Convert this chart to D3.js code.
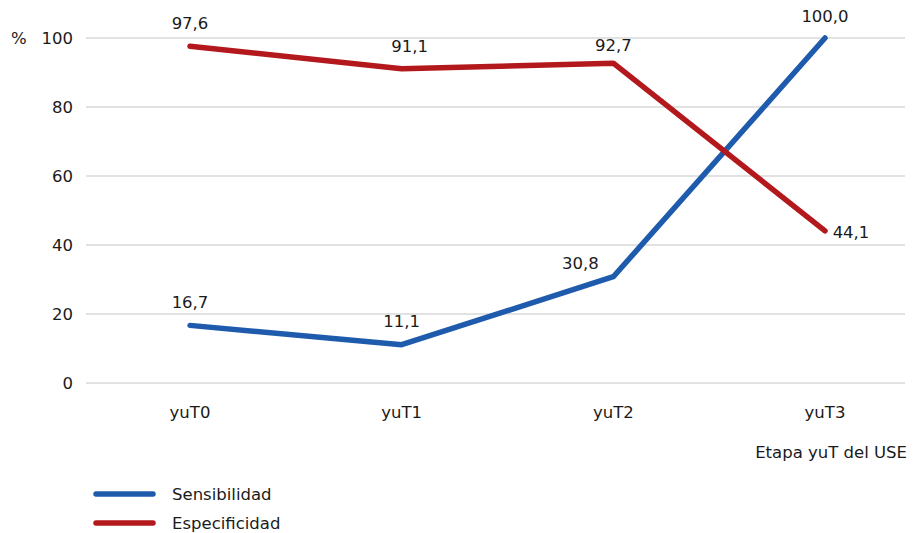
<!DOCTYPE html>
<html>
<head>
<meta charset="utf-8">
<script src="https://cdn.jsdelivr.net/npm/d3@7"></script>
<style>
  body { margin: 0; background: #fff; }
  text { font-family: "DejaVu Sans", Verdana, sans-serif; fill: #1a1a1a; }
</style>
</head>
<body>
<script>
var etapas = ["yuT0", "yuT1", "yuT2", "yuT3"];
var sensibilidad = [16.7, 11.1, 30.8, 100.0];
var especificidad = [97.6, 91.1, 92.7, 44.1];
var yTicks = [0, 20, 40, 60, 80, 100];

var svg = d3.select("body").append("svg")
  .attr("width", 914)
  .attr("height", 533);

var x = d3.scalePoint().domain(etapas).range([190, 825]);
var y = d3.scaleLinear().domain([0, 100]).range([383, 38]);

// gridlines
svg.selectAll("line.grid")
  .data(yTicks)
  .enter()
  .append("line")
  .attr("class", "grid")
  .attr("x1", 86)
  .attr("x2", 905)
  .attr("y1", function(d) { return y(d); })
  .attr("y2", function(d) { return y(d); })
  .style("stroke", "#d9d9d9")
  .style("stroke-width", 1.3);

// y labels
svg.selectAll("text.ylab")
  .data(yTicks)
  .enter()
  .append("text")
  .attr("class", "ylab")
  .attr("x", 73)
  .attr("y", function(d) { return y(d) + 6; })
  .attr("text-anchor", "end")
  .style("font-size", "16.5px")
  .text(function(d) { return d; });

svg.append("text")
  .attr("x", 11)
  .attr("y", y(100) + 6)
  .style("font-size", "16.5px")
  .text("%");

// x labels
svg.selectAll("text.xlab")
  .data(etapas)
  .enter()
  .append("text")
  .attr("class", "xlab")
  .attr("x", function(d) { return x(d); })
  .attr("y", 418)
  .attr("text-anchor", "middle")
  .style("font-size", "16.5px")
  .text(function(d) { return d; });

svg.append("text")
  .attr("x", 907)
  .attr("y", 458)
  .attr("text-anchor", "end")
  .style("font-size", "16.5px")
  .text("Etapa yuT del USE");

var series = [
  { name: "Sensibilidad", values: sensibilidad, color: "#1f5bad",
    off: [[0, -17], [0, -18], [-33, -8], [0, -16]] },
  { name: "Especificidad", values: especificidad, color: "#b3191c",
    off: [[0, -17], [8, -17], [0, -12], [26, 7]] }
];

var line = d3.line()
  .x(function(d, i) { return x(etapas[i]); })
  .y(function(d) { return y(d); });

series.forEach(function(s, k) {
  svg.append("path")
    .datum(s.values)
    .attr("d", line)
    .style("fill", "none")
    .style("stroke", s.color)
    .style("stroke-width", 5.5)
    .style("stroke-linecap", "round")
    .style("stroke-linejoin", "round");

  svg.selectAll("text.lab" + k)
    .data(s.values)
    .enter()
    .append("text")
    .attr("class", "lab" + k)
    .attr("x", function(d, i) { return x(etapas[i]) + s.off[i][0]; })
    .attr("y", function(d, i) { return y(d) + s.off[i][1]; })
    .attr("text-anchor", "middle")
    .style("font-size", "16.5px")
    .text(function(d) { return d.toFixed(1).replace(".", ","); });

  // legend
  svg.append("line")
    .attr("x1", 96).attr("x2", 153)
    .attr("y1", 494 + k * 29).attr("y2", 494 + k * 29)
    .style("stroke", s.color)
    .style("stroke-width", 5.5)
    .style("stroke-linecap", "round");

  svg.append("text")
    .attr("x", 172)
    .attr("y", 500 + k * 29)
    .style("font-size", "16.5px")
    .text(s.name);
});
</script>
</body>
</html>
